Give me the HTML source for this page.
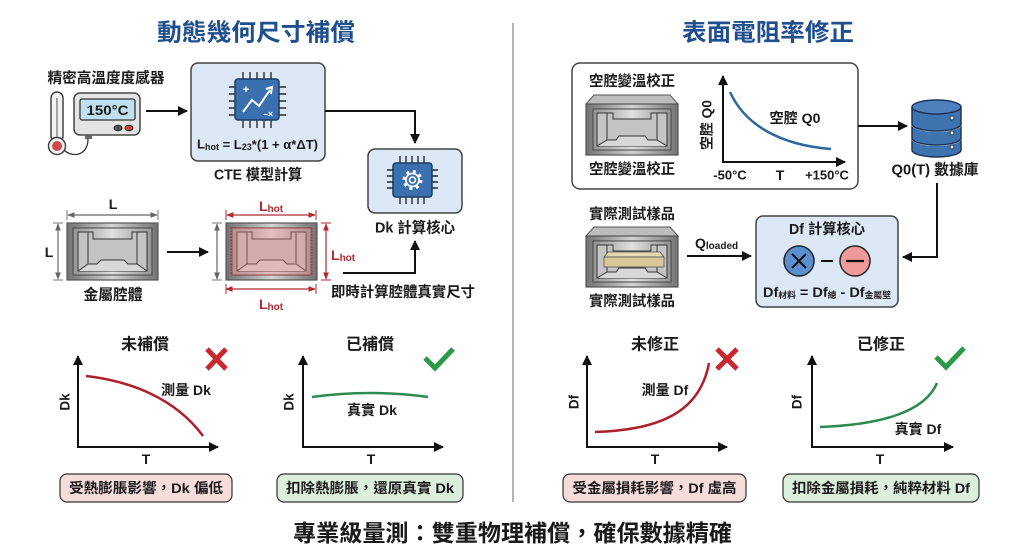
<!DOCTYPE html>
<html><head><meta charset="utf-8"><style>
html,body{margin:0;padding:0;background:#fff;}
svg{display:block;font-family:"Liberation Sans","Noto Sans CJK TC",sans-serif;}
.t{font-family:"Liberation Sans","Noto Sans CJK TC",sans-serif;fill:#1a1a1a;}
.b{font-weight:bold;}
</style></head><body>
<svg width="1024" height="559" viewBox="0 0 1024 559" xmlns="http://www.w3.org/2000/svg">
<defs>
<marker id="ar" viewBox="0 0 10 10" refX="9" refY="5" markerWidth="5" markerHeight="5" orient="auto-start-reverse"><path d="M0,0 L10,5 L0,10 Z" fill="#111"/></marker>
<marker id="ag" viewBox="0 0 10 10" refX="9" refY="5" markerWidth="6" markerHeight="6" orient="auto-start-reverse"><path d="M0,1 L10,5 L0,9 Z" fill="#666"/></marker>
<marker id="arr" viewBox="0 0 10 10" refX="9" refY="5" markerWidth="6" markerHeight="6" orient="auto-start-reverse"><path d="M0,1 L10,5 L0,9 Z" fill="#b02a34"/></marker>
<linearGradient id="gm" x1="0" x2="1" y1="0" y2="0"><stop offset="0" stop-color="#727272"/><stop offset="0.5" stop-color="#d2d2d2"/><stop offset="1" stop-color="#727272"/></linearGradient>
<linearGradient id="gm2" x1="0" x2="1" y1="0" y2="0"><stop offset="0" stop-color="#959595"/><stop offset="0.5" stop-color="#e0e0e0"/><stop offset="1" stop-color="#959595"/></linearGradient>
<g id="cav">
<rect x="0" y="0" width="91" height="57" fill="url(#gm)" stroke="#555" stroke-width="1.2"/>
<rect x="6" y="5" width="79" height="47" fill="url(#gm2)" stroke="#444" stroke-width="1"/>
<path d="M11,9 H26 V16 H65 V9 H80 V48 H11 Z" fill="#c4c4c4" stroke="#333" stroke-width="1"/>
<path d="M11,48 L21,41 H30 L34,37 H57 L61,41 H70 L80,48" fill="#d8d8d8" stroke="#333" stroke-width="1"/>
<path d="M21,9 V41 M70,9 V41" stroke="#333" stroke-width="1"/>
</g>
<g id="pcav">
<path d="M0,9 L8,0 H84 L92,9 Z" fill="#bdbdbd" stroke="#555" stroke-width="1"/>
<rect x="0" y="9" width="92" height="51" fill="url(#gm)" stroke="#555" stroke-width="1.2"/>
<rect x="7" y="14" width="78" height="41" fill="url(#gm2)" stroke="#444" stroke-width="1"/>
<path d="M11,18 H27 V24 H65 V18 H81 V51 H11 Z" fill="#c4c4c4" stroke="#333" stroke-width="1"/>
<path d="M11,51 L21,45 H30 L33,41 H59 L62,45 H71 L81,51" fill="#d8d8d8" stroke="#333" stroke-width="1"/>
<path d="M21,18 V45 M71,18 V45" stroke="#333" stroke-width="1"/>
</g>
</defs>

<!-- Titles -->
<text class="t" x="256" y="33" text-anchor="middle" dominant-baseline="central" font-size="24" font-weight="bold" style="fill:#1f4f8e" textLength="198" lengthAdjust="spacingAndGlyphs">動態幾何尺寸補償</text>
<text class="t" x="768" y="33" text-anchor="middle" dominant-baseline="central" font-size="24" font-weight="bold" style="fill:#1f4f8e" textLength="172" lengthAdjust="spacingAndGlyphs">表面電阻率修正</text>

<!-- divider -->
<line x1="513" y1="23" x2="513" y2="502" stroke="#9a9a9a" stroke-width="1.5"/>

<!-- ===== LEFT TOP ===== -->
<text class="t b" x="106" y="79" text-anchor="middle" dominant-baseline="central" font-size="14.5" textLength="117" lengthAdjust="spacingAndGlyphs">精密高溫度度感器</text>
<!-- thermometer -->
<rect x="51" y="92" width="12" height="50" rx="6" fill="#f2f2f2" stroke="#444" stroke-width="1.5"/>
<line x1="57" y1="98" x2="57" y2="140" stroke="#888" stroke-width="1.5"/>
<circle cx="57" cy="146" r="8.5" fill="#f2f2f2" stroke="#444" stroke-width="1.5"/>
<circle cx="57" cy="146" r="5" fill="#cf4b4b"/>
<!-- device -->
<rect x="74" y="93" width="66" height="42" rx="6" fill="#e4e4e4" stroke="#444" stroke-width="1.5"/>
<rect x="80" y="99" width="55" height="21" rx="2" fill="#bfe0ef" stroke="#333" stroke-width="1.3"/>
<text class="t b" x="107.5" y="110" text-anchor="middle" dominant-baseline="central" font-size="14" textLength="42" lengthAdjust="spacingAndGlyphs">150°C</text>
<ellipse cx="118" cy="128" rx="4" ry="2.8" fill="#555" stroke="#222"/>
<ellipse cx="129" cy="128" rx="4" ry="2.8" fill="#c94444" stroke="#222"/>
<rect x="85" y="135" width="7" height="4" fill="#666"/>
<path d="M88,139 C88,156 72,158 64,150" fill="none" stroke="#333" stroke-width="1.3"/>
<!-- arrow to CTE -->
<line x1="146" y1="111" x2="187" y2="111" stroke="#111" stroke-width="2" marker-end="url(#ar)"/>
<!-- CTE box -->
<rect x="191" y="63" width="134" height="98" rx="7" fill="#dce8f5" stroke="#444" stroke-width="1.5"/>
<g stroke="#2b2b2b" stroke-width="1.4">
<path d="M243,72V79 M250,72V79 M257,72V79 M264,72V79 M271,72V79"/>
<path d="M243,120V128 M250,120V128 M257,120V128 M264,120V128 M271,120V128"/>
<path d="M229,87H235 M229,94H235 M229,101H235 M229,108H235 M229,115H235"/>
<path d="M279,87H286 M279,94H286 M279,101H286 M279,108H286 M279,115H286"/>
</g>
<rect x="235" y="79" width="44" height="41" rx="3" fill="#3a6fb0" stroke="#1d3a64" stroke-width="1.5"/>
<polyline points="243,112 252,100 259,106 270,90" fill="none" stroke="#fff" stroke-width="2"/>
<path d="M266,89 L272,87 L271,94" fill="none" stroke="#fff" stroke-width="2"/>
<text x="246" y="90" text-anchor="middle" dominant-baseline="central" font-size="11" font-weight="bold" fill="#fff" font-family="Liberation Sans, sans-serif">+</text>
<text x="268" y="114" text-anchor="middle" dominant-baseline="central" font-size="9" font-weight="bold" fill="#fff" font-family="Liberation Sans, sans-serif">–×</text>
<text class="t" x="197" y="144" dominant-baseline="central" font-size="13" font-weight="bold" textLength="121" lengthAdjust="spacingAndGlyphs">L<tspan font-size="9" dy="3">hot</tspan><tspan dy="-3"> = L</tspan><tspan font-size="9" dy="3">23</tspan><tspan dy="-3">*(1 + α*ΔT)</tspan></text>
<text class="t b" x="258" y="175" text-anchor="middle" dominant-baseline="central" font-size="15" textLength="88" lengthAdjust="spacingAndGlyphs">CTE 模型計算</text>
<!-- CTE to Dk -->
<polyline points="325,111 415,111 415,143" fill="none" stroke="#111" stroke-width="2" marker-end="url(#ar)"/>
<!-- Dk box -->
<rect x="368" y="149" width="94" height="64" rx="7" fill="#dce8f5" stroke="#444" stroke-width="1.5"/>
<g stroke="#2b2b2b" stroke-width="1.4">
<path d="M400,156V163 M406,156V163 M412,156V163 M418,156V163 M424,156V163"/>
<path d="M400,197V204 M406,197V204 M412,197V204 M418,197V204 M424,197V204"/>
<path d="M387,170H393 M387,176H393 M387,182H393 M387,188H393"/>
<path d="M432,170H438 M432,176H438 M432,182H438 M432,188H438"/>
</g>
<rect x="393" y="163" width="39" height="34" rx="3" fill="#3a6fb0" stroke="#1d3a64" stroke-width="1.5"/>
<circle cx="412.5" cy="180" r="8.5" fill="none" stroke="#fff" stroke-width="3" stroke-dasharray="3 3.68"/>
<circle cx="412.5" cy="180" r="6.5" fill="none" stroke="#fff" stroke-width="1.8"/>
<circle cx="412.5" cy="180" r="3" fill="none" stroke="#fff" stroke-width="1.6"/>
<text class="t b" x="415" y="228" text-anchor="middle" dominant-baseline="central" font-size="15" textLength="80" lengthAdjust="spacingAndGlyphs">Dk 計算核心</text>
<!-- arrow up to Dk -->
<polyline points="343,273 415,273 415,241" fill="none" stroke="#111" stroke-width="2" marker-end="url(#ar)"/>
<text class="t b" x="403" y="293" text-anchor="middle" dominant-baseline="central" font-size="14.5" textLength="144" lengthAdjust="spacingAndGlyphs">即時計算腔體真實尺寸</text>

<!-- cavity 1 -->
<use href="#cav" x="67" y="223"/>
<line x1="68" y1="215" x2="157" y2="215" stroke="#666" stroke-width="1.2" marker-start="url(#ag)" marker-end="url(#ag)"/>
<path d="M67,210V220 M158,210V220" stroke="#777" stroke-width="1"/>
<text class="t b" x="113" y="204" text-anchor="middle" dominant-baseline="central" font-size="14">L</text>
<line x1="58" y1="224" x2="58" y2="279" stroke="#666" stroke-width="1.2" marker-start="url(#ag)" marker-end="url(#ag)"/>
<path d="M53,223H63 M53,280H63" stroke="#777" stroke-width="1"/>
<text class="t b" x="49" y="252" text-anchor="middle" dominant-baseline="central" font-size="14">L</text>
<text class="t b" x="113" y="295" text-anchor="middle" dominant-baseline="central" font-size="15" textLength="59" lengthAdjust="spacingAndGlyphs">金屬腔體</text>
<line x1="167" y1="252" x2="208" y2="252" stroke="#111" stroke-width="2" marker-end="url(#ar)"/>

<!-- cavity 2 -->
<use href="#cav" x="226" y="223"/>
<rect x="231" y="228" width="81" height="47" fill="#f08080" fill-opacity="0.35" stroke="#b02a34" stroke-width="1" stroke-dasharray="1.5 1.5"/>
<line x1="217" y1="224" x2="217" y2="279" stroke="#666" stroke-width="1.2" marker-start="url(#ag)" marker-end="url(#ag)"/>
<path d="M212,223H222 M212,280H222" stroke="#777" stroke-width="1"/>
<line x1="227" y1="215" x2="315" y2="215" stroke="#b02a34" stroke-width="1.2" marker-start="url(#arr)" marker-end="url(#arr)"/>
<path d="M226,210V220 M316,210V220" stroke="#b02a34" stroke-width="1"/>
<text x="271" y="206" text-anchor="middle" dominant-baseline="central" font-size="14" font-weight="bold" fill="#b02a34" font-family="Liberation Sans, sans-serif">L<tspan font-size="10" dy="3">hot</tspan></text>
<line x1="226" y1="289" x2="315" y2="289" stroke="#b02a34" stroke-width="1.2" marker-start="url(#arr)" marker-end="url(#arr)"/>
<path d="M226,284V294 M316,284V294" stroke="#b02a34" stroke-width="1"/>
<text x="271" y="304" text-anchor="middle" dominant-baseline="central" font-size="14" font-weight="bold" fill="#b02a34" font-family="Liberation Sans, sans-serif">L<tspan font-size="10" dy="3">hot</tspan></text>
<line x1="326" y1="224" x2="326" y2="279" stroke="#b02a34" stroke-width="1.2" marker-start="url(#arr)" marker-end="url(#arr)"/>
<path d="M321,223H331 M321,280H331" stroke="#b02a34" stroke-width="1"/>
<text x="331" y="255" dominant-baseline="central" font-size="14" font-weight="bold" fill="#b02a34" font-family="Liberation Sans, sans-serif">L<tspan font-size="10" dy="3">hot</tspan></text>

<!-- ===== RIGHT TOP ===== -->
<rect x="572" y="63" width="286" height="126" rx="8" fill="#fff" stroke="#444" stroke-width="1.5"/>
<text class="t b" x="632" y="82" text-anchor="middle" dominant-baseline="central" font-size="14.5" textLength="86" lengthAdjust="spacingAndGlyphs">空腔變溫校正</text>
<use href="#pcav" x="586" y="95"/>
<text class="t b" x="632" y="170" text-anchor="middle" dominant-baseline="central" font-size="14.5" textLength="86" lengthAdjust="spacingAndGlyphs">空腔變溫校正</text>
<line x1="723" y1="162" x2="723" y2="76" stroke="#111" stroke-width="2" marker-end="url(#ar)"/>
<line x1="722" y1="162" x2="845" y2="162" stroke="#111" stroke-width="2" marker-end="url(#ar)"/>
<path d="M730,92 C745,125 780,145 831,149" fill="none" stroke="#2f68a0" stroke-width="2.5"/>
<text class="t b" x="795" y="118" text-anchor="middle" dominant-baseline="central" font-size="14" textLength="51" lengthAdjust="spacingAndGlyphs">空腔 Q0</text>
<text class="t b" x="0" y="0" text-anchor="middle" dominant-baseline="central" font-size="13.5" transform="translate(707,125) rotate(-90)" textLength="50" lengthAdjust="spacingAndGlyphs">空腔 Q0</text>
<text class="t b" x="730" y="175" text-anchor="middle" dominant-baseline="central" font-size="13">-50°C</text>
<text class="t b" x="780" y="175" text-anchor="middle" dominant-baseline="central" font-size="14">T</text>
<text class="t b" x="827" y="175" text-anchor="middle" dominant-baseline="central" font-size="13">+150°C</text>
<line x1="858" y1="126" x2="907" y2="126" stroke="#111" stroke-width="2" marker-end="url(#ar)"/>
<!-- database -->
<g stroke="#1c355a" stroke-width="1.5">
<path d="M912,138 V150 A24.5,7 0 0 0 961,150 V138" fill="#3f73b0"/>
<path d="M912,138 A24.5,7 0 0 0 961,138" fill="none" stroke="#fff" stroke-width="2"/>
<path d="M912,124 V138 A24.5,7 0 0 0 961,138 V124" fill="#3f73b0"/>
<path d="M912,124 A24.5,7 0 0 0 961,124" fill="none" stroke="#fff" stroke-width="2"/>
<path d="M912,107 V124 A24.5,7 0 0 0 961,124 V107" fill="#3f73b0"/>
<ellipse cx="936.5" cy="107" rx="24.5" ry="7" fill="#4d80bd"/>
</g>
<circle cx="952" cy="118" r="2" fill="#fff" stroke="#1c355a"/>
<circle cx="952" cy="133" r="2" fill="#fff" stroke="#1c355a"/>
<circle cx="952" cy="147" r="2" fill="#fff" stroke="#1c355a"/>
<text class="t b" x="935" y="170" text-anchor="middle" dominant-baseline="central" font-size="15" textLength="87" lengthAdjust="spacingAndGlyphs">Q0(T) 數據庫</text>
<polyline points="937,183 937,257 903,257" fill="none" stroke="#111" stroke-width="2" marker-end="url(#ar)"/>

<!-- sample -->
<text class="t b" x="632" y="215" text-anchor="middle" dominant-baseline="central" font-size="14.5" textLength="86" lengthAdjust="spacingAndGlyphs">實際測試樣品</text>
<use href="#pcav" x="586" y="227"/>
<path d="M604,257 L608,252 H660 L664,257 Z" fill="#e6d9b0" stroke="#555" stroke-width="0.8"/>
<rect x="604" y="257" width="60" height="10" fill="#d8c89a" stroke="#555" stroke-width="0.8"/>
<text class="t b" x="632" y="302" text-anchor="middle" dominant-baseline="central" font-size="14.5" textLength="86" lengthAdjust="spacingAndGlyphs">實際測試樣品</text>
<line x1="687" y1="256" x2="751" y2="256" stroke="#111" stroke-width="2" marker-end="url(#ar)"/>
<text class="t b" x="695" y="243" dominant-baseline="central" font-size="14">Q<tspan font-size="10" dy="3">loaded</tspan></text>
<!-- Df box -->
<rect x="756" y="216" width="142" height="91" rx="7" fill="#dce8f5" stroke="#444" stroke-width="1.5"/>
<text class="t b" x="827" y="230" text-anchor="middle" dominant-baseline="central" font-size="14.5" textLength="76" lengthAdjust="spacingAndGlyphs">Df 計算核心</text>
<circle cx="799" cy="261" r="15" fill="#5b8fd0" stroke="#222" stroke-width="1.5"/>
<path d="M792,254 L806,268 M806,254 L792,268" stroke="#111" stroke-width="2"/>
<line x1="821" y1="261" x2="833" y2="261" stroke="#111" stroke-width="2"/>
<circle cx="855" cy="261" r="15" fill="#ef9a9a" stroke="#222" stroke-width="1.5"/>
<line x1="846" y1="261" x2="864" y2="261" stroke="#111" stroke-width="2.2"/>
<text class="t b" x="763" y="292" dominant-baseline="central" font-size="14" textLength="128" lengthAdjust="spacingAndGlyphs">Df<tspan font-size="8.5" dy="3">材料</tspan><tspan dy="-3"> = Df</tspan><tspan font-size="8.5" dy="3">總</tspan><tspan dy="-3"> - Df</tspan><tspan font-size="8.5" dy="3">金屬壁</tspan></text>

<!-- ===== BOTTOM GRAPHS ===== -->
<!-- G1 -->
<text class="t" x="145" y="345" text-anchor="middle" dominant-baseline="central" font-size="16" font-weight="bold">未補償</text>
<path d="M207,349 L226,369 M226,349 L207,369" stroke="#c8282e" stroke-width="5"/>
<line x1="78" y1="447" x2="78" y2="356" stroke="#111" stroke-width="2" marker-end="url(#ar)"/>
<line x1="77" y1="447" x2="218" y2="447" stroke="#111" stroke-width="2" marker-end="url(#ar)"/>
<path d="M86,376 C130,381 175,398 203,436" fill="none" stroke="#ae1f2a" stroke-width="2.5"/>
<text class="t b" x="186" y="390" text-anchor="middle" dominant-baseline="central" font-size="14">測量 Dk</text>
<text class="t" x="0" y="0" text-anchor="middle" dominant-baseline="central" font-size="13.5" font-weight="bold" transform="translate(65,402) rotate(-90)">Dk</text>
<text class="t" x="146" y="459" text-anchor="middle" dominant-baseline="central" font-size="14" font-weight="bold">T</text>
<rect x="60" y="474" width="172" height="28" rx="7" fill="#f7dcdc" stroke="#333" stroke-width="1.2"/>
<text class="t b" x="146" y="488" text-anchor="middle" dominant-baseline="central" font-size="14" textLength="154" lengthAdjust="spacingAndGlyphs">受熱膨脹影響，Dk 偏低</text>

<!-- G2 -->
<text class="t" x="370" y="345" text-anchor="middle" dominant-baseline="central" font-size="16" font-weight="bold">已補償</text>
<polyline points="425,358 435,368 453,349" fill="none" stroke="#2a9a48" stroke-width="5"/>
<line x1="303" y1="447" x2="303" y2="356" stroke="#111" stroke-width="2" marker-end="url(#ar)"/>
<line x1="302" y1="447" x2="443" y2="447" stroke="#111" stroke-width="2" marker-end="url(#ar)"/>
<path d="M312,397 Q370,389 428,397" fill="none" stroke="#2e8b4f" stroke-width="2.5"/>
<text class="t b" x="372" y="410" text-anchor="middle" dominant-baseline="central" font-size="14">真實 Dk</text>
<text class="t" x="0" y="0" text-anchor="middle" dominant-baseline="central" font-size="13.5" font-weight="bold" transform="translate(289,402) rotate(-90)">Dk</text>
<text class="t" x="371" y="459" text-anchor="middle" dominant-baseline="central" font-size="14" font-weight="bold">T</text>
<rect x="277" y="474" width="186" height="28" rx="7" fill="#dcefdc" stroke="#333" stroke-width="1.2"/>
<text class="t b" x="370" y="488" text-anchor="middle" dominant-baseline="central" font-size="14" textLength="168" lengthAdjust="spacingAndGlyphs">扣除熱膨脹，還原真實 Dk</text>

<!-- G3 -->
<text class="t" x="655" y="345" text-anchor="middle" dominant-baseline="central" font-size="16" font-weight="bold">未修正</text>
<path d="M717,349 L737,369 M737,349 L717,369" stroke="#c8282e" stroke-width="5"/>
<line x1="587" y1="447" x2="587" y2="356" stroke="#111" stroke-width="2" marker-end="url(#ar)"/>
<line x1="586" y1="447" x2="727" y2="447" stroke="#111" stroke-width="2" marker-end="url(#ar)"/>
<path d="M595,432 C660,430 700,412 709,363" fill="none" stroke="#ae1f2a" stroke-width="2.5"/>
<text class="t b" x="665" y="390" text-anchor="middle" dominant-baseline="central" font-size="14">測量 Df</text>
<text class="t" x="0" y="0" text-anchor="middle" dominant-baseline="central" font-size="13.5" font-weight="bold" transform="translate(574,402) rotate(-90)">Df</text>
<text class="t" x="655" y="459" text-anchor="middle" dominant-baseline="central" font-size="14" font-weight="bold">T</text>
<rect x="563" y="474" width="183" height="28" rx="7" fill="#f7dcdc" stroke="#333" stroke-width="1.2"/>
<text class="t b" x="654.5" y="488" text-anchor="middle" dominant-baseline="central" font-size="14" textLength="164" lengthAdjust="spacingAndGlyphs">受金屬損耗影響，Df 虛高</text>

<!-- G4 -->
<text class="t" x="881" y="345" text-anchor="middle" dominant-baseline="central" font-size="16" font-weight="bold">已修正</text>
<polyline points="936,357 946,367 964,348" fill="none" stroke="#2a9a48" stroke-width="5"/>
<line x1="812" y1="447" x2="812" y2="356" stroke="#111" stroke-width="2" marker-end="url(#ar)"/>
<line x1="811" y1="447" x2="953" y2="447" stroke="#111" stroke-width="2" marker-end="url(#ar)"/>
<path d="M820,427 C880,425 925,412 937,383" fill="none" stroke="#2e8b4f" stroke-width="2.5"/>
<text class="t b" x="918" y="429" text-anchor="middle" dominant-baseline="central" font-size="14">真實 Df</text>
<text class="t" x="0" y="0" text-anchor="middle" dominant-baseline="central" font-size="13.5" font-weight="bold" transform="translate(797,402) rotate(-90)">Df</text>
<text class="t" x="880" y="459" text-anchor="middle" dominant-baseline="central" font-size="14" font-weight="bold">T</text>
<rect x="783" y="474" width="196" height="28" rx="7" fill="#dcefdc" stroke="#333" stroke-width="1.2"/>
<text class="t b" x="881" y="488" text-anchor="middle" dominant-baseline="central" font-size="14" textLength="178" lengthAdjust="spacingAndGlyphs">扣除金屬損耗，純粹材料 Df</text>

<!-- bottom banner -->
<text class="t" x="512.5" y="533" text-anchor="middle" dominant-baseline="central" font-size="23" font-weight="bold" textLength="439" lengthAdjust="spacingAndGlyphs">專業級量測：雙重物理補償，確保數據精確</text>
</svg>
</body></html>
